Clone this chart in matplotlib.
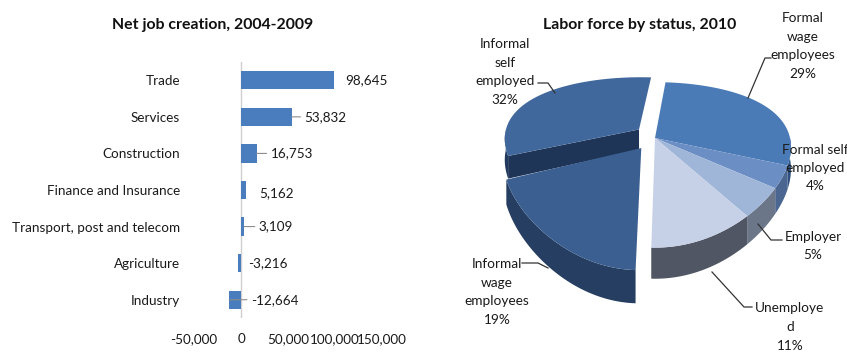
import numpy as np
import matplotlib
matplotlib.use("Agg")
import matplotlib.pyplot as plt
from matplotlib.patches import Polygon

plt.rcParams['font.family'] = ['Lato', 'DejaVu Sans']

# net job creation by sector
sectors = ["Trade", "Services", "Construction", "Finance and Insurance",
           "Transport, post and telecom", "Agriculture", "Industry"]
jobs = [98645, 53832, 16753, 5162, 3109, -3216, -12664]
xticks = [-50000, 0, 50000, 100000, 150000]

# labor force shares, clockwise from the top
status = ["Formal\nwage\nemployees", "Formal self\nemployed", "Employer",
          "Unemploye\nd", "Informal\nwage\nemployees", "Informal\nself\nemployed"]
shares = [29, 4, 5, 11, 19, 32]

W, H = 847, 352
fig = plt.figure(figsize=(W / 100, H / 100), dpi=100)
txt = '#1a1a1a'

# ---------- bar chart ----------
ax = fig.add_axes([194 / W, 1 - 318 / H, 188 / W, 256 / H])
pos = np.arange(len(sectors))
ax.barh(pos, jobs, height=0.5, color='#4a7dbd', zorder=2)
ax.set_ylim(len(sectors) - 0.5, -0.5)
ax.set_xlim(-50000, 150000)
ax.set_yticks(pos)
ax.set_yticklabels(sectors, fontsize=9.7, color=txt)
ax.set_xticks(xticks)
ax.set_xticklabels(["{:,}".format(v) for v in xticks], fontsize=9.7, color=txt)
ax.tick_params(axis='y', length=0, pad=10)
ax.tick_params(axis='x', length=0, pad=11)
for s in ax.spines.values():
    s.set_visible(False)
ax.axvline(0, color='#cfcfcf', lw=1, zorder=1)

# label gaps (px) and whether a leader line is drawn
gaps = [12, 13, 14, 13, 15, 10, 22]
leaders = [False, True, True, False, True, False, True]
for i, v in enumerate(jobs):
    g = gaps[i] * 0.72
    dy = -2 if i == 3 else 0
    ax.annotate("{:,}".format(v), xy=(v, i), xytext=(g, dy), textcoords='offset points',
                ha='left', va='center', fontsize=9.7, color=txt)
    if leaders[i]:
        ax.annotate("", xy=(v, i), xytext=(g - 3, 0), textcoords='offset points',
                    arrowprops=dict(arrowstyle='-', color='#8c8c8c', lw=0.8,
                                    shrinkA=0, shrinkB=0))

fig.text(213 / W, 1 - 25 / H, "Net job creation, 2004-2009", ha='center', va='center',
         fontsize=11.4, fontweight='bold', color='#111111')

# ---------- 3D pie ----------
ax2 = fig.add_axes([0.5, 0, 0.5, 1])
ax2.set_xlim(W / 2, W)
ax2.set_ylim(H, 0)
ax2.axis('off')

cx, cy, R, A, depth = 655, 138, 135, 74, 21
kx, ky = 0.12, 0.325


def proj(X, Y, Z=0.0):
    sx = 1 / (1 + kx * Y)
    sy = 1 / (1 + ky * Y)
    return cx + R * X * sx, cy + (-A * Y - depth * Z) * sy


top_colors = ['#4a7bb7', '#6b8fc4', '#a0b6d9', '#c6d1e7', '#3b5f90', '#41689d']
side_colors = ['#2f507e', '#4b6690', '#6b7689', '#505663', '#253e62', '#213a5e']
offsets = [(0, 0), (0, 0), (0, 0), (0, 0), (-0.10, -0.13), (-0.12, 0.12)]

start = 85.0
ends = start - 3.6 * np.concatenate([[0], np.cumsum(shares)])
slices = [(ends[i + 1], ends[i]) for i in range(len(shares))]  # ccw range [t1, t2]

n = len(shares)
exploded = [o != (0, 0) for o in offsets]


def draw_slice(i):
    t1, t2 = slices[i]
    ox, oy = offsets[i]
    t = np.radians(np.linspace(t1, t2, 120))
    X = ox + np.cos(t)
    Y = oy + np.sin(t)

    # radial cut faces that turn toward the viewer
    r1, r2 = np.radians(t1), np.radians(t2)
    for th, ny, nb in [(r2, np.cos(r2), (i - 1) % n), (r1, -np.cos(r1), (i + 1) % n)]:
        if ny < -0.2 and (exploded[i] or exploded[nb]):
            ex, ey = ox + np.cos(th), oy + np.sin(th)
            pts = [proj(ox, oy, 0), proj(ex, ey, 0), proj(ex, ey, -1), proj(ox, oy, -1)]
            ax2.add_patch(Polygon(pts, closed=True, fc='#1f3557', ec='none'))

    # outer wall on the front half
    front = np.sin(t) < 0
    if front.any():
        idx = np.where(front)[0]
        top = [proj(a, b, 0) for a, b in zip(X[idx], Y[idx])]
        bot = [proj(a, b, -1) for a, b in zip(X[idx], Y[idx])][::-1]
        ax2.add_patch(Polygon(top + bot, closed=True, fc=side_colors[i], ec='none'))

    # top face
    pts = [proj(ox, oy, 0)] + [proj(a, b, 0) for a, b in zip(X, Y)]
    ax2.add_patch(Polygon(pts, closed=True, fc=top_colors[i], ec='none'))


def depth_key(i):
    t1, t2 = slices[i]
    m = np.radians((t1 + t2) / 2)
    return -(offsets[i][1] + 0.5 * np.sin(m))


for i in sorted(range(n), key=depth_key):
    draw_slice(i)

# labels and leader lines
label_xy = [(803, 46), (815, 168), (813, 246), (790, 327), (497, 292), (505, 72)]
leader_pts = [
    [(771, 58), (765, 58), (748, 98)],
    None,
    [(782, 240), (771, 240), (758, 224)],
    [(752, 307), (744, 307), (712, 272)],
    [(522, 263), (538, 263), (548, 268)],
    [(538, 83), (548, 83), (555, 93)],
]
for i in range(n):
    x, y = label_xy[i]
    ax2.text(x, y, "{}\n{}%".format(status[i], shares[i]), ha='center', va='center',
             fontsize=9.8, color=txt, linespacing=1.65)
    if leader_pts[i]:
        xs, ys = zip(*leader_pts[i])
        ax2.plot(xs, ys, color='#333333', lw=0.9)

ax2.text(640, 25, "Labor force by status, 2010", ha='center', va='center',
         fontsize=11.4, fontweight='bold', color='#111111')

fig.savefig("out.png", dpi=100)
